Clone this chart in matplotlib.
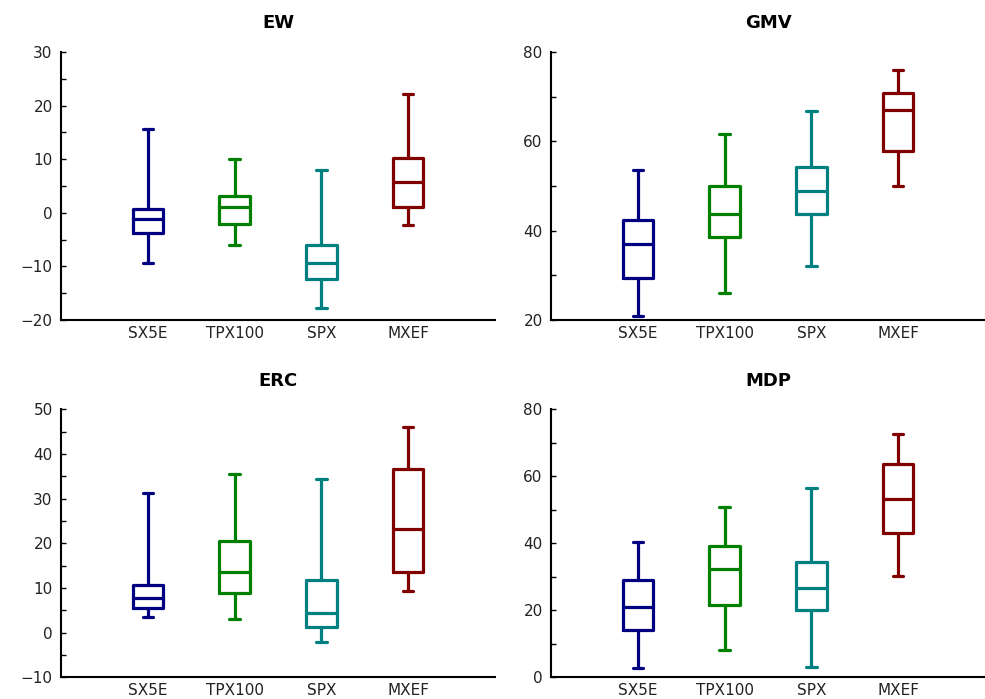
import matplotlib
matplotlib.use('Agg')
import matplotlib.pyplot as plt
from matplotlib.ticker import AutoMinorLocator

plt.rcParams['font.family'] = ['DejaVu Sans']

labels = ['SX5E', 'TPX100', 'SPX', 'MXEF']
colors = ['#000080', '#008000', '#008080', '#800000']

# per panel: whislo, q1, med, q3, whishi for each index
ew_lo = [-9.4, -6.1, -17.8, -2.3]
ew_q1 = [-3.8, -2.0, -12.4, 1.0]
ew_med = [-1.2, 1.0, -9.4, 5.7]
ew_q3 = [0.8, 3.1, -6.0, 10.2]
ew_hi = [15.6, 10.1, 8.0, 22.2]

gmv_lo = [20.9, 26.0, 32.0, 49.9]
gmv_q1 = [29.5, 38.6, 43.8, 57.8]
gmv_med = [37.0, 43.8, 48.8, 67.1]
gmv_q3 = [42.3, 50.1, 54.2, 70.9]
gmv_hi = [53.5, 61.6, 66.7, 75.9]

erc_lo = [3.6, 3.1, -2.0, 9.4]
erc_q1 = [5.5, 8.8, 1.2, 13.5]
erc_med = [7.7, 13.6, 4.5, 23.1]
erc_q3 = [10.7, 20.6, 11.8, 36.6]
erc_hi = [31.2, 35.5, 34.5, 46.0]

mdp_lo = [2.8, 8.3, 3.0, 30.1]
mdp_q1 = [14.2, 21.7, 20.0, 43.0]
mdp_med = [21.0, 32.4, 26.6, 53.2]
mdp_q3 = [29.1, 39.1, 34.3, 63.7]
mdp_hi = [40.4, 50.7, 56.5, 72.5]

panels = [
    ('EW', (ew_lo, ew_q1, ew_med, ew_q3, ew_hi), (-20, 30), 10),
    ('GMV', (gmv_lo, gmv_q1, gmv_med, gmv_q3, gmv_hi), (20, 80), 20),
    ('ERC', (erc_lo, erc_q1, erc_med, erc_q3, erc_hi), (-10, 50), 10),
    ('MDP', (mdp_lo, mdp_q1, mdp_med, mdp_q3, mdp_hi), (0, 80), 20),
]

rects = [
    [0.0619, 0.5422, 0.4406, 0.3834],
    [0.5594, 0.5422, 0.4406, 0.3834],
    [0.0619, 0.031, 0.4406, 0.3834],
    [0.5594, 0.031, 0.4406, 0.3834],
]

fig = plt.figure(figsize=(9.85, 6.99), dpi=100)
for (title, (lo, q1, med, q3, hi), ylim, step), rect in zip(panels, rects):
    ax = fig.add_axes(rect)
    stats = []
    for i in range(len(labels)):
        stats.append(dict(whislo=lo[i], q1=q1[i], med=med[i], q3=q3[i],
                          whishi=hi[i], fliers=[], label=labels[i]))
    bp = ax.bxp(stats, positions=[1, 2, 3, 4], widths=0.35,
                capwidths=0.12, showfliers=False, patch_artist=False)
    for i, c in enumerate(colors):
        for art in [bp['boxes'][i], bp['medians'][i],
                    bp['whiskers'][2 * i], bp['whiskers'][2 * i + 1],
                    bp['caps'][2 * i], bp['caps'][2 * i + 1]]:
            art.set_color(c)
            art.set_linewidth(2.3)
            art.set_solid_capstyle('round')
    ax.set_xlim(0, 5)
    ax.set_ylim(*ylim)
    ax.set_yticks(range(ylim[0], ylim[1] + 1, step))
    ax.yaxis.set_minor_locator(AutoMinorLocator(2))
    ax.spines['top'].set_visible(False)
    ax.spines['right'].set_visible(False)
    ax.spines['left'].set_linewidth(1.5)
    ax.spines['bottom'].set_linewidth(1.5)
    ax.tick_params(axis='y', which='both', direction='in', length=3.5,
                   width=1.0, labelsize=11, pad=6, labelcolor='#222222')
    ax.tick_params(axis='x', length=0, labelsize=11, pad=4,
                   labelcolor='#222222')
    ax.set_title(title, fontsize=13, fontweight='bold', pad=17)

plt.savefig('out.png', dpi=100)
